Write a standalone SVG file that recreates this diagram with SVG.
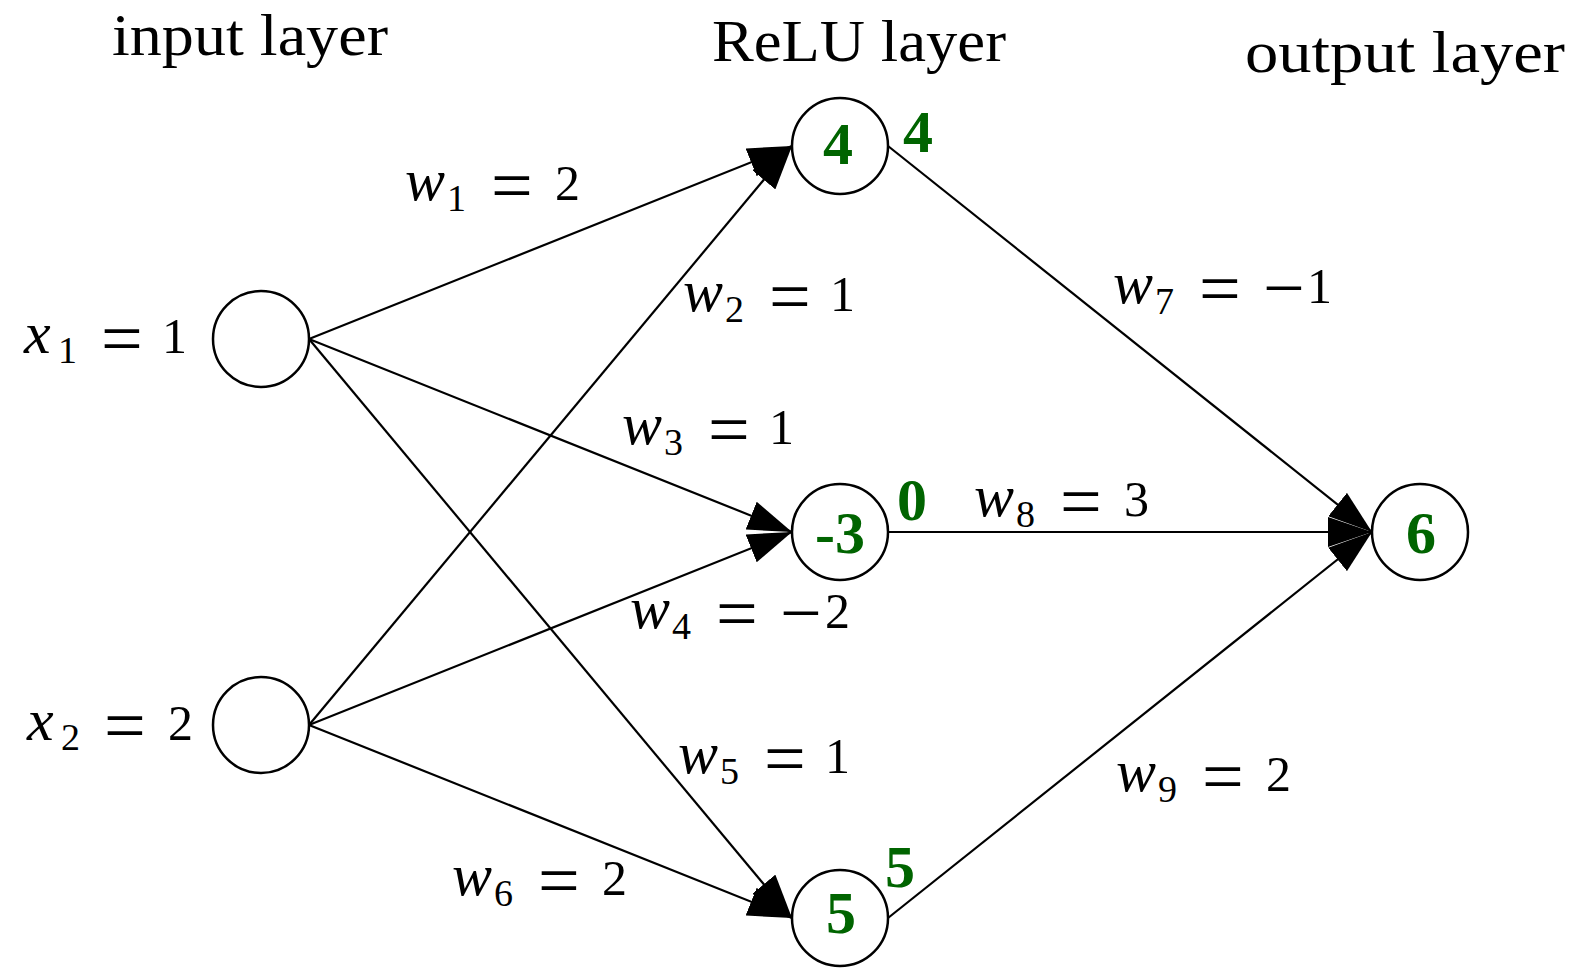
<svg xmlns="http://www.w3.org/2000/svg" width="1574" height="974" viewBox="0 0 1574 974">
<defs>
<style>
.node{fill:#fff;stroke:#000;stroke-width:2.5}
.edge{fill:none;stroke:#000;stroke-width:2.2}
.title{font-family:"Liberation Serif",serif;font-size:60px;fill:#000}
.m{font-family:"Liberation Serif",serif;font-size:50px;fill:#000}
.v{font-style:italic;font-size:60px}
.s{font-size:38px}
.o{font-size:74px}
.g{font-family:"Liberation Serif",serif;font-weight:bold;font-size:60px;fill:#006400}
.gc{text-anchor:middle}
</style>
<marker id="arr" viewBox="0 -15 44 30" refX="44" refY="0" markerWidth="44" markerHeight="30" markerUnits="userSpaceOnUse" orient="auto">
<path d="M0,-15 L44,0 L0,15 Z" fill="#000"/>
</marker>
</defs>
<rect width="1574" height="974" fill="#fff"/>
<g id="titles">
<text class="title" x="112" y="55" textLength="276" lengthAdjust="spacingAndGlyphs">input layer</text>
<text class="title" x="712" y="61" textLength="294" lengthAdjust="spacingAndGlyphs">ReLU layer</text>
<text class="title" x="1245" y="72" textLength="320" lengthAdjust="spacingAndGlyphs">output layer</text>
</g>
<g id="connectors">
<line class="edge" x1="309" y1="339" x2="792" y2="146" marker-end="url(#arr)"/>
<line class="edge" x1="309" y1="339" x2="792" y2="532" marker-end="url(#arr)"/>
<line class="edge" x1="309" y1="339" x2="792" y2="918" marker-end="url(#arr)"/>
<line class="edge" x1="309" y1="725" x2="792" y2="146" marker-end="url(#arr)"/>
<line class="edge" x1="309" y1="725" x2="792" y2="532" marker-end="url(#arr)"/>
<line class="edge" x1="309" y1="725" x2="792" y2="918" marker-end="url(#arr)"/>
<line class="edge" x1="888" y1="146" x2="1372" y2="532" marker-end="url(#arr)"/>
<line class="edge" x1="888" y1="532" x2="1372" y2="532" marker-end="url(#arr)"/>
<line class="edge" x1="888" y1="918" x2="1372" y2="532" marker-end="url(#arr)"/>
</g>
<g id="edge-labels">
<text class="m"><tspan class="v" x="405" y="200">w</tspan><tspan class="s" x="447" y="211">1</tspan><tspan class="o" x="491" y="210">=</tspan><tspan x="555" y="200">2</tspan></text>
<text class="m"><tspan class="v" x="683" y="311">w</tspan><tspan class="s" x="725" y="322">2</tspan><tspan class="o" x="769" y="321">=</tspan><tspan x="830" y="311">1</tspan></text>
<text class="m"><tspan class="v" x="622" y="444">w</tspan><tspan class="s" x="664" y="455">3</tspan><tspan class="o" x="708" y="454">=</tspan><tspan x="769" y="444">1</tspan></text>
<text class="m"><tspan class="v" x="630" y="628">w</tspan><tspan class="s" x="672" y="639">4</tspan><tspan class="o" x="716" y="638">=</tspan><tspan class="o" x="780" y="638">−</tspan><tspan x="825" y="628">2</tspan></text>
<text class="m"><tspan class="v" x="678" y="773">w</tspan><tspan class="s" x="720" y="784">5</tspan><tspan class="o" x="764" y="783">=</tspan><tspan x="825" y="773">1</tspan></text>
<text class="m"><tspan class="v" x="452" y="895">w</tspan><tspan class="s" x="494" y="906">6</tspan><tspan class="o" x="538" y="905">=</tspan><tspan x="602" y="895">2</tspan></text>
<text class="m"><tspan class="v" x="1113" y="303">w</tspan><tspan class="s" x="1155" y="314">7</tspan><tspan class="o" x="1199" y="313">=</tspan><tspan class="o" x="1263" y="313">−</tspan><tspan x="1307" y="303">1</tspan></text>
<text class="m"><tspan class="v" x="974" y="516">w</tspan><tspan class="s" x="1016" y="527">8</tspan><tspan class="o" x="1060" y="526">=</tspan><tspan x="1124" y="516">3</tspan></text>
<text class="m"><tspan class="v" x="1116" y="791">w</tspan><tspan class="s" x="1158" y="802">9</tspan><tspan class="o" x="1202" y="801">=</tspan><tspan x="1266" y="791">2</tspan></text>
</g>
<g id="x1">
<circle class="node" cx="261" cy="339" r="48"/>
<text class="m"><tspan class="v" x="24" y="353">x</tspan><tspan class="s" x="58" y="363">1</tspan><tspan class="o" x="101" y="363">=</tspan><tspan x="162" y="353">1</tspan></text>
</g>
<g id="x2">
<circle class="node" cx="261" cy="725" r="48"/>
<text class="m"><tspan class="v" x="27" y="740">x</tspan><tspan class="s" x="61" y="750">2</tspan><tspan class="o" x="104" y="750">=</tspan><tspan x="168" y="740">2</tspan></text>
</g>
<g id="h1">
<circle class="node" cx="840" cy="146" r="48"/>
<text class="g gc" x="838" y="164">4</text>
<text class="g" x="903" y="152">4</text>
</g>
<g id="h2">
<circle class="node" cx="840" cy="532" r="48"/>
<text class="g gc" x="840" y="553">-3</text>
<text class="g" x="897" y="520">0</text>
</g>
<g id="h3">
<circle class="node" cx="840" cy="918" r="48"/>
<text class="g gc" x="841" y="933">5</text>
<text class="g" x="885" y="887">5</text>
</g>
<g id="out">
<circle class="node" cx="1420" cy="532" r="48"/>
<text class="g gc" x="1421" y="553">6</text>
</g>
</svg>
